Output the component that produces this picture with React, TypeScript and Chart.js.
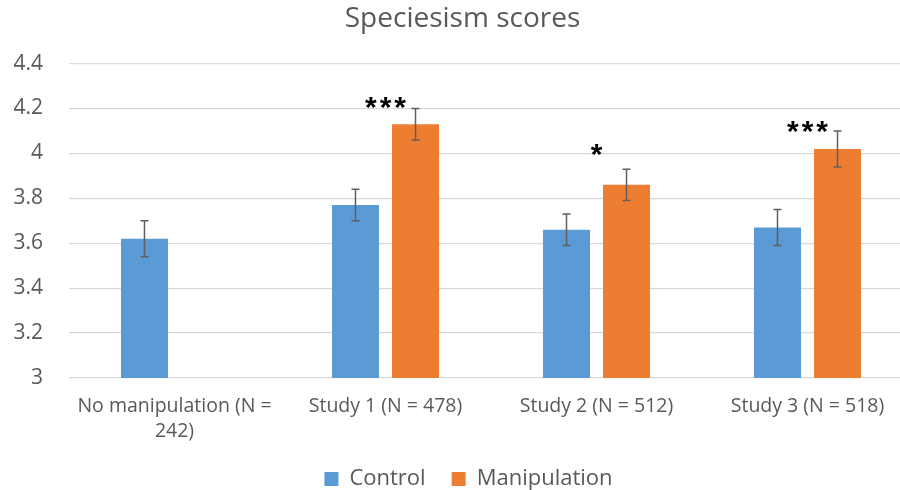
import React, { useEffect, useRef } from "react";
import { Chart, registerables } from "chart.js";

Chart.register(...registerables);

const categories: (string | string[])[] = [
  ["No manipulation (N =", "242)"],
  "Study 1 (N = 478)",
  "Study 2 (N = 512)",
  "Study 3 (N = 518)",
];
const controlMeans = [3.62, 3.77, 3.66, 3.67];
const controlErrors = [0.08, 0.07, 0.07, 0.08];
const manipulationMeans: (number | null)[] = [null, 4.13, 3.86, 4.02];
const manipulationErrors: (number | null)[] = [null, 0.07, 0.07, 0.08];
const significance = ["", "***", "*", "***"];
const significanceLevels: (number | null)[] = [null, 4.24, 4.03, 4.13];
const yMin = 3;
const yMax = 4.4;
const yStep = 0.2;

const TEXT = "#595959";
const FONT = "'Open Sans', 'Noto Sans', sans-serif";

const shiftBlocksPlugin = {
  id: "shiftBlocks",
  afterLayout(chart: any) {
    const l = chart.legend;
    if (l) {
      l.left += 12;
      l.right += 12;
    }
    const t = chart.titleBlock;
    if (t) {
      t.left += 6;
      t.right += 6;
    }
  },
};

const errorAndStarPlugin = {
  id: "errorAndStars",
  afterDatasetsDraw(chart: any) {
    const ctx = chart.ctx;
    const ys = chart.scales.y;
    const xs = chart.scales.x;
    const means = [controlMeans, manipulationMeans];
    const errs = [controlErrors, manipulationErrors];
    ctx.save();
    ctx.strokeStyle = "#5f5f5f";
    ctx.lineWidth = 1.5;
    [0, 1].forEach((di) => {
      const meta = chart.getDatasetMeta(di);
      meta.data.forEach((el: any, i: number) => {
        const m = means[di][i];
        const e = errs[di][i];
        if (m == null || e == null) return;
        const x = el.x;
        const yt = ys.getPixelForValue(m + e);
        const yb = ys.getPixelForValue(m - e);
        ctx.beginPath();
        ctx.moveTo(x, yt);
        ctx.lineTo(x, yb);
        ctx.moveTo(x - 4, yt);
        ctx.lineTo(x + 4, yt);
        ctx.moveTo(x - 4, yb);
        ctx.lineTo(x + 4, yb);
        ctx.stroke();
      });
    });
    const size = 30;
    ctx.fillStyle = "#000";
    ctx.font = `bold ${size}px 'Liberation Sans', sans-serif`;
    ctx.textAlign = "left";
    ctx.textBaseline = "alphabetic";
    const gap = 3;
    significance.forEach((s, i) => {
      const lvl = significanceLevels[i];
      if (!s || lvl == null) return;
      const cx = xs.getPixelForValue(i);
      const cy = ys.getPixelForValue(lvl);
      const cw = ctx.measureText("*").width;
      const total = s.length * cw + (s.length - 1) * gap;
      let x = cx - total / 2;
      for (const ch of s) {
        ctx.fillText(ch, x, cy + 0.57 * size);
        x += cw + gap;
      }
    });
    ctx.restore();
  },
};

export default function App() {
  const ref = useRef<HTMLCanvasElement | null>(null);
  useEffect(() => {
    if (!ref.current) return;
    const chart = new Chart(ref.current, {
      type: "bar",
      data: {
        labels: categories,
        datasets: [
          {
            label: "Control",
            data: controlMeans,
            backgroundColor: "#5B9BD5",
            barPercentage: 0.783,
            categoryPercentage: 0.569,
          },
          {
            label: "Manipulation",
            data: manipulationMeans,
            backgroundColor: "#ED7D31",
            barPercentage: 0.783,
            categoryPercentage: 0.569,
          },
        ],
      },
      options: {
        responsive: false,
        animation: false,
        layout: { padding: { left: 0, right: 14, top: 0, bottom: 0 } },
        plugins: {
          title: {
            display: true,
            text: "Speciesism scores",
            color: TEXT,
            font: { family: FONT, size: 28, weight: "normal" },
            padding: { top: 2, bottom: 28 },
          },
          legend: {
            position: "bottom",
            labels: {
              boxWidth: 14,
              boxHeight: 14,
              padding: 26,
              color: TEXT,
              font: { family: FONT, size: 22 },
            },
          },
          tooltip: { enabled: false },
        },
        scales: {
          x: {
            grid: { display: false, drawTicks: false },
            border: { display: false },
            ticks: {
              color: TEXT,
              font: { family: FONT, size: 19.5, lineHeight: "25px" },
              padding: 16,
              maxRotation: 0,
              autoSkip: false,
            },
            afterFit: (s: any) => {
              s.height = 64;
            },
          },
          y: {
            min: yMin,
            max: yMax,
            ticks: {
              stepSize: yStep,
              color: TEXT,
              font: { family: FONT, size: 21 },
              padding: 26,
              callback: (v: any) => String(Number(Number(v).toFixed(1))),
            },
            grid: { color: "#D9D9D9", lineWidth: 1.3, drawTicks: false },
            border: { display: false },
            afterFit: (s: any) => {
              s.width = 69;
            },
          },
        },
      },
      plugins: [shiftBlocksPlugin, errorAndStarPlugin],
    });
    return () => chart.destroy();
  }, []);
  return (
    <div
      style={{
        position: "fixed",
        left: 0,
        top: 0,
        width: 900,
        height: 490,
        overflow: "hidden",
        background: "#fff",
      }}
    >
      <canvas ref={ref} width={927} height={500} />
    </div>
  );
}
